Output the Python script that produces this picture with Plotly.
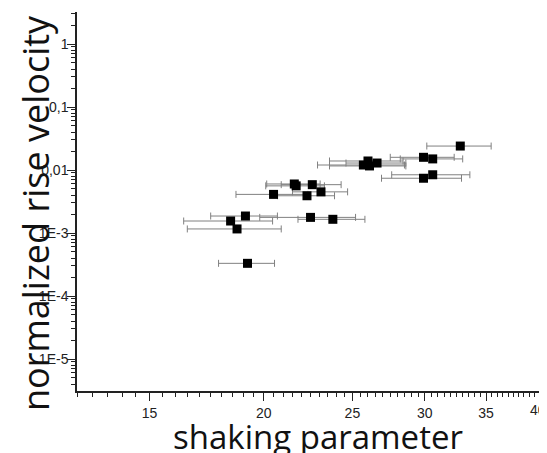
import plotly.graph_objects as go
import numpy as np

# shaking parameter (x), normalized rise velocity (y), x error
shaking = [19.2, 18.4, 19.1, 18.7, 22.5, 23.8, 20.5, 22.3, 23.1, 21.6, 21.7, 22.6,
           25.7, 26.0, 26.1, 26.6, 29.9, 30.6, 32.8, 29.9, 30.6]
shaking_err = [1.35, 2.05, 1.6, 2.2, 2.7, 2.0, 1.85, 1.6, 1.6, 1.45, 1.6, 1.7,
               2.8, 2.4, 2.5, 2.0, 2.4, 2.4, 2.65, 3.0, 3.0]
rise_velocity = [3.3e-4, 1.55e-3, 1.86e-3, 1.16e-3, 1.77e-3, 1.65e-3, 4.1e-3, 3.9e-3, 4.5e-3,
                 6.0e-3, 5.6e-3, 5.85e-3, 0.0120, 0.0139, 0.0116, 0.0129, 0.0159, 0.0150,
                 0.0240, 0.0074, 0.0084]

x_tickvals = [15, 20, 25, 30, 35, 40]
x_ticktext = ["15", "20", "25", "30", "35", ""]
last_x_label = "40"
y_tickvals = [1e-5, 1e-4, 1e-3, 1e-2, 1e-1, 1]
y_ticktext = ["1E-5", "1E-4", "1E-3", "0,01", "0,1", "1"]

x_minor = [v / 2 for v in range(25, 83) if v % 10 != 0]
y_minor = [m * 10.0 ** e for e in range(-6, 1) for m in range(2, 10)]

fig = go.Figure()
fig.add_trace(go.Scatter(
    x=shaking, y=rise_velocity, mode="markers",
    marker=dict(symbol="square", size=9, color="black", line=dict(width=0)),
    error_x=dict(type="data", array=shaking_err, visible=True,
                 color="#808080", thickness=1, width=3.5),
    showlegend=False,
))

tickfont = dict(family="Liberation Sans, Arial", size=14, color="#222")

# page has an 8px body margin: figure coordinates = page coordinates - 8
W, H = 539, 445
L, T, B = 69, 4, 62
PW, PH = W - L, H - T - B

fig.update_layout(
    width=W, height=H,
    margin=dict(l=L, r=0, t=T, b=B, autoexpand=False),
    paper_bgcolor="white", plot_bgcolor="white",
    xaxis=dict(
        type="log", range=[np.log10(12.5), np.log10(40.8)], automargin=False,
        tickmode="array", tickvals=x_tickvals, ticktext=x_ticktext,
        ticks="outside", ticklen=8, tickwidth=1, tickcolor="#222",
        showline=True, linecolor="#222", linewidth=1.5,
        showgrid=False, zeroline=False, tickfont=tickfont,
        ticklabeloverflow="allow",
        minor=dict(tickmode="array", tickvals=x_minor, ticks="outside",
                   ticklen=4, tickcolor="#222", showgrid=False),
    ),
    yaxis=dict(
        type="log", range=[-5.508, 0.508], automargin=False,
        tickmode="array", tickvals=y_tickvals, ticktext=y_ticktext,
        ticks="outside", ticklen=8, tickwidth=1, tickcolor="#222",
        showline=True, linecolor="#222", linewidth=1.5,
        showgrid=False, zeroline=False, tickfont=tickfont,
        ticklabeloverflow="allow", ticklabelstandoff=-4,
        minor=dict(tickmode="array", tickvals=y_minor, ticks="outside",
                   ticklen=4, tickcolor="#222", showgrid=False),
    ),
    annotations=[
        dict(text=last_x_label, xref="paper", yref="paper",
             x=1.0, y=-(410 - (H - B) - 8) / PH, xanchor="right", yanchor="middle",
             showarrow=False, font=tickfont, borderpad=0),
        dict(text="shaking parameter", xref="paper", yref="paper",
             x=(310 - L) / PW, y=-(428 - (H - B)) / PH, xanchor="center", yanchor="middle",
             showarrow=False, font=dict(family="Open Sans", size=33, color="#111")),
        dict(text="normalized rise velocity", xref="paper", yref="paper",
             x=-(L - 27) / PW, y=((H - B) - 205) / PH, xanchor="center", yanchor="middle",
             textangle=-90, showarrow=False,
             font=dict(family="Open Sans", size=36, color="#111")),
    ],
)

fig.write_html("out.html")
